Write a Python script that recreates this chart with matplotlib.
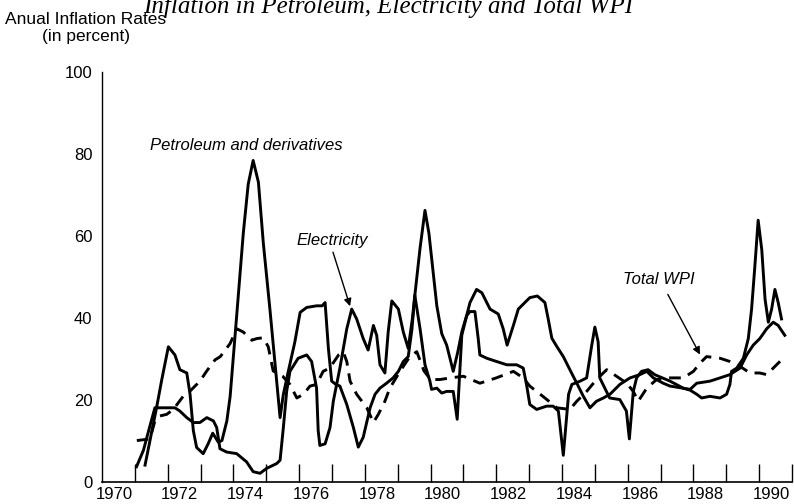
import matplotlib
matplotlib.use("Agg")
import matplotlib.pyplot as plt
from matplotlib import font_manager

### data (year, annual inflation in percent)
petro_years = [1971.31, 1971.46, 1971.66, 1971.82, 1972.02, 1972.22, 1972.37, 1972.58, 1972.68, 1972.78,
               1972.88, 1973.08, 1973.23, 1973.37, 1973.54, 1973.65, 1973.80, 1973.90, 1974.10, 1974.30,
               1974.45, 1974.60, 1974.76, 1974.91, 1975.11, 1975.26, 1975.42, 1975.52, 1975.67, 1975.87,
               1976.03, 1976.23, 1976.53, 1976.70, 1976.79, 1976.89, 1976.99, 1977.12, 1977.24, 1977.45,
               1977.65, 1977.80, 1977.95, 1978.16, 1978.31, 1978.46, 1978.66, 1978.86, 1979.02, 1979.17,
               1979.32, 1979.43, 1979.53, 1979.68, 1979.83, 1979.95, 1980.08, 1980.19, 1980.34, 1980.49,
               1980.59, 1980.69, 1980.83, 1980.95, 1981.10, 1981.20, 1981.40, 1981.56, 1981.81, 1982.06,
               1982.21, 1982.33, 1982.52, 1982.67, 1982.87, 1983.02, 1983.25, 1983.48, 1983.58, 1983.69,
               1983.84, 1984.04, 1984.24, 1984.45, 1984.65, 1984.85, 1985.05, 1985.26, 1985.46, 1985.76,
               1986.07, 1986.37, 1986.58, 1986.78, 1987.08, 1987.29, 1987.90, 1988.10, 1988.50, 1988.81,
               1989.11, 1989.42, 1989.62, 1989.82, 1990.02, 1990.23, 1990.43, 1990.58, 1990.78]
petro_vals = [4.0, 10.0, 18.0, 24.9, 32.9, 30.9, 27.3, 26.5, 21.3, 12.4,
              8.3, 6.8, 9.2, 11.8, 9.6, 10.0, 14.8, 20.8, 40.6, 60.6,
              72.6, 78.4, 73.1, 58.2, 42.1, 29.3, 15.6, 21.3, 26.9, 34.1,
              41.3, 42.5, 42.9, 42.9, 43.7, 32.5, 24.5, 23.7, 23.3, 18.8,
              13.2, 8.4, 10.8, 18.0, 21.3, 22.8, 24.0, 25.3, 26.9, 29.3,
              30.5, 37.0, 46.1, 57.0, 66.2, 60.6, 51.0, 42.9, 36.1, 33.3,
              30.1, 26.9, 31.7, 36.5, 40.6, 43.7, 46.9, 46.1, 42.1, 40.9,
              37.3, 33.3, 38.1, 42.1, 43.7, 44.9, 45.3, 43.7, 39.7, 35.0,
              33.0, 30.5, 27.3, 24.0, 20.8, 18.0, 19.6, 20.4, 21.3, 23.7,
              25.3, 26.1, 26.9, 25.3, 24.0, 23.3, 22.5, 24.0, 24.5, 25.3,
              26.1, 27.7, 30.9, 33.3, 34.9, 37.3, 38.9, 38.1, 35.7]

elec_years = [1971.05, 1971.26, 1971.46, 1971.61, 1972.22, 1972.37, 1972.58, 1972.78, 1972.98, 1973.19,
              1973.39, 1973.49, 1973.59, 1973.79, 1974.10, 1974.40, 1974.60, 1974.81, 1975.01, 1975.32,
              1975.42, 1975.52, 1975.62, 1975.72, 1975.97, 1976.23, 1976.38, 1976.53, 1976.58, 1976.63,
              1976.79, 1976.94, 1977.04, 1977.24, 1977.45, 1977.60, 1977.75, 1977.95, 1978.10, 1978.26,
              1978.36, 1978.46, 1978.61, 1978.71, 1978.82, 1979.02, 1979.17, 1979.32, 1979.45, 1979.52,
              1979.68, 1979.83, 1979.98, 1980.03, 1980.19, 1980.34, 1980.49, 1980.69, 1980.81, 1980.95,
              1981.10, 1981.20, 1981.35, 1981.45, 1981.50, 1981.71, 1982.01, 1982.32, 1982.62, 1982.82,
              1982.92, 1983.02, 1983.23, 1983.53, 1983.73, 1983.89, 1984.04, 1984.20, 1984.30, 1984.55,
              1984.75, 1984.90, 1985.00, 1985.10, 1985.15, 1985.45, 1985.76, 1985.96, 1986.05, 1986.17,
              1986.27, 1986.42, 1986.62, 1986.82, 1987.29, 1987.69, 1987.90, 1988.10, 1988.25, 1988.50,
              1988.81, 1989.01, 1989.11, 1989.16, 1989.32, 1989.52, 1989.67, 1989.77, 1989.87, 1989.97,
              1990.08, 1990.18, 1990.28, 1990.38, 1990.48, 1990.58, 1990.68]
elec_vals = [3.6, 7.6, 13.6, 18.0, 18.0, 17.2, 15.6, 14.4, 14.4, 15.6,
             14.8, 13.2, 8.0, 7.2, 6.8, 4.8, 2.4, 2.0, 3.2, 4.4,
             5.2, 13.2, 22.0, 26.9, 30.1, 30.9, 29.3, 22.8, 12.4, 8.8,
             9.2, 13.2, 19.6, 27.7, 37.3, 42.1, 39.7, 34.9, 32.1, 38.1,
             35.7, 28.5, 26.5, 36.5, 44.1, 42.1, 36.5, 32.5, 40.0, 45.5,
             37.3, 28.5, 24.5, 22.5, 22.8, 21.6, 22.0, 22.0, 15.2, 35.7,
             40.5, 41.5, 41.5, 34.9, 30.9, 30.1, 29.3, 28.5, 28.5, 27.7,
             23.7, 18.8, 17.6, 18.4, 18.4, 17.2, 6.4, 21.3, 23.7, 24.5,
             25.3, 33.0, 37.7, 34.1, 25.3, 20.4, 20.0, 17.2, 10.4, 22.0,
             25.3, 26.9, 27.3, 26.1, 24.5, 22.8, 22.3, 21.3, 20.4, 20.8,
             20.4, 21.3, 23.7, 26.9, 27.7, 30.1, 34.9, 42.1, 52.6, 63.8,
             56.6, 44.5, 38.9, 42.1, 46.9, 43.7, 39.7]

wpi_years = [1971.06, 1971.46, 1971.61, 1971.76, 1971.97, 1972.17, 1972.47, 1972.67, 1972.98, 1973.18,
             1973.44, 1973.60, 1973.90, 1974.10, 1974.30, 1974.56, 1974.71, 1974.91, 1975.06, 1975.21,
             1975.50, 1975.72, 1975.93, 1976.13, 1976.33, 1976.53, 1976.73, 1976.93, 1977.20, 1977.34,
             1977.45, 1977.55, 1977.75, 1978.06, 1978.26, 1978.41, 1978.61, 1978.76, 1979.07, 1979.37,
             1979.58, 1979.80, 1980.00, 1980.29, 1980.60, 1981.00, 1981.50, 1982.00, 1982.52, 1982.82,
             1983.02, 1983.48, 1983.84, 1984.24, 1984.45, 1984.75, 1985.05, 1985.36, 1985.66, 1985.97,
             1986.17, 1986.32, 1986.58, 1986.88, 1987.29, 1987.69, 1988.00, 1988.20, 1988.40, 1988.81,
             1989.11, 1989.42, 1989.72, 1990.02, 1990.23, 1990.43, 1990.68]
wpi_vals = [10.0, 10.4, 14.8, 16.0, 16.4, 17.6, 20.8, 22.0, 24.5, 26.9,
            29.7, 30.5, 33.7, 37.3, 36.5, 34.5, 34.9, 35.1, 32.9, 27.0,
            25.7, 23.7, 20.4, 21.3, 23.3, 23.7, 26.9, 27.7, 30.9, 31.7,
            29.3, 24.5, 21.3, 18.0, 14.4, 16.4, 19.6, 22.8, 26.9, 30.5,
            31.7, 27.0, 24.9, 24.9, 25.3, 25.7, 24.0, 25.3, 26.9, 25.3,
            23.3, 20.4, 18.0, 17.6, 19.6, 22.0, 24.9, 27.3, 25.7, 24.0,
            22.0, 19.6, 22.8, 24.9, 25.3, 25.3, 26.9, 28.9, 30.5, 30.1,
            29.3, 28.1, 26.5, 26.5, 26.1, 27.7, 29.7]

label_years = list(range(1970, 1991, 2))
y_ticks = [0, 20, 40, 60, 80, 100]

### fonts -- condensed sans if we have it
names = {f.name for f in font_manager.fontManager.ttflist}
sans = 'Liberation Sans Narrow' if 'Liberation Sans Narrow' in names else 'Liberation Sans'
plt.rcParams['font.family'] = sans

fig = plt.figure(figsize=(7.94, 5.04), dpi=100)
ax = fig.add_axes([102 / 794, 22.5 / 504, 690 / 794, 409.5 / 504])

ax.plot(petro_years, petro_vals, color='black', lw=2.1, solid_joinstyle='round')
ax.plot(elec_years, elec_vals, color='black', lw=2.1, solid_joinstyle='round')
ax.plot(wpi_years, wpi_vals, color='black', lw=2.1, dashes=(4, 2.7), dash_capstyle='butt')

ax.set_xlim(1970, 1991)
ax.set_ylim(0, 100)
for side in ['top', 'right']:
       ax.spines[side].set_visible(False)
ax.spines['left'].set_linewidth(1.0)
ax.spines['bottom'].set_linewidth(1.2)

# labels sit a bit to the right of the year ticks in the original
ax.set_xticks([y + 0.37 for y in label_years])
ax.set_xticklabels([str(y) for y in label_years])
ax.set_xticks(range(1971, 1992), minor=True)
ax.set_yticks(y_ticks)
ax.set_yticks(y_ticks[1:-1], minor=True)
ax.tick_params(which='major', length=0, labelsize=12)
ax.tick_params(axis='x', which='major', pad=4)
ax.tick_params(axis='y', which='major', pad=7)
ax.tick_params(which='minor', direction='in', length=13, width=1.0)

fig.text(86 / 794, 1 - 12 / 504, "Anual Inflation Rates\n(in percent)", ha='center', va='top',
         fontsize=12.5, linespacing=1.15)

# title is cut off at the top edge of the scan
fig.text(143 / 794, 1 - 13 / 504, "Inflation in Petroleum, Electricity and Total WPI",
         ha='left', va='baseline', fontsize=18, style='italic', family='Liberation Serif')

ax.text(1971.46, 82.0, "Petroleum and derivatives", style='italic', fontsize=12, va='center')
ax.text(1975.93, 58.9, "Electricity", style='italic', fontsize=12, va='center')
ax.text(1985.86, 49.3, "Total WPI", style='italic', fontsize=12, va='center')

arrow = dict(arrowstyle='-|>', lw=1.0, color='black', mutation_scale=11, shrinkA=0, shrinkB=0)
ax.annotate("", xy=(1977.55, 42.8), xytext=(1977.03, 56.0), arrowprops=arrow)
ax.annotate("", xy=(1988.2, 31.0), xytext=(1987.22, 45.7), arrowprops=arrow)

plt.savefig('out.png', dpi=100)
